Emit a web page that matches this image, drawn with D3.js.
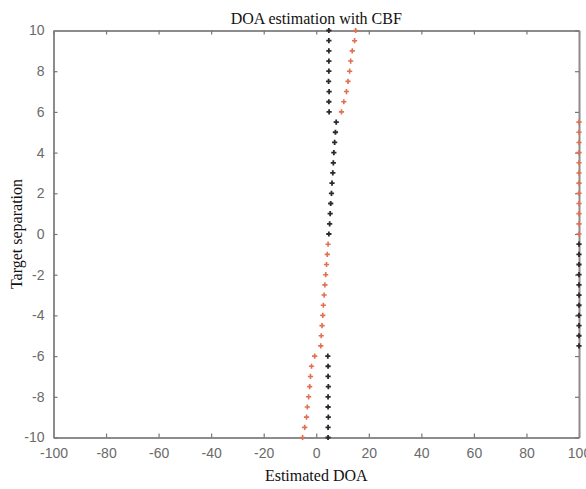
<!DOCTYPE html>
<html>
<head>
<meta charset="utf-8">
<script src="https://cdn.jsdelivr.net/npm/d3@7"></script>
<style>
  html, body { margin: 0; padding: 0; background: #fff; }
  svg { display: block; }
</style>
</head>
<body>
<svg id="chart" width="586" height="489"></svg>
<script>
// Target separation (y axis), -10 to 10 in steps of 0.5
const separation = [
  -10, -9.5, -9, -8.5, -8, -7.5, -7, -6.5, -6, -5.5,
  -5, -4.5, -4, -3.5, -3, -2.5, -2, -1.5, -1, -0.5,
  0, 0.5, 1, 1.5, 2, 2.5, 3, 3.5, 4, 4.5,
  5, 5.5, 6, 6.5, 7, 7.5, 8, 8.5, 9, 9.5, 10
];

// Estimated DOA of the first source (black markers)
const estimate1 = [
  4.5, 4.5, 4.6, 4.5, 4.5, 4.6, 4.5, 4.5, 4.4, 100,
  100, 100, 100, 100, 100, 100, 100, 100, 100, 100,
  4.8, 5.1, 5.3, 5.5, 5.8, 6.0, 6.3, 6.5, 6.7, 7.0,
  7.3, 7.6, 4.9, 4.8, 4.9, 4.7, 4.8, 4.8, 4.8, 4.8, 4.8
];

// Estimated DOA of the second source (red markers)
const estimate2 = [
  -5.2, -4.4, -3.7, -3.4, -2.9, -2.5, -2.2, -1.8, -0.6, 1.7,
  1.9, 2.2, 2.5, 2.7, 3.0, 3.3, 3.6, 3.9, 4.2, 4.5,
  100, 100, 100, 100, 100, 100, 100, 100, 100, 100,
  100, 100, 9.6, 10.5, 11.5, 12.1, 12.7, 13.1, 13.7, 14.6, 15.0
];

const xTicks = [-100, -80, -60, -40, -20, 0, 20, 40, 60, 80, 100];
const yTicks = [-10, -8, -6, -4, -2, 0, 2, 4, 6, 8, 10];

const titleText = "DOA estimation with CBF";
const xLabelText = "Estimated DOA";
const yLabelText = "Target separation";

const svg = d3.select("#chart");
const margin = { left: 53.5, right: 7, top: 30.5, bottom: 51.5 };
const W = 586, H = 489;
const x0 = margin.left, x1 = W - margin.right;
const y0 = margin.top, y1 = H - margin.bottom;

const x = d3.scaleLinear().domain([-100, 100]).range([x0, x1]);
const y = d3.scaleLinear().domain([-10, 10]).range([y1, y0]);

const axisColor = "#8c8c8c";
const labelColor = "#6a6a6a";
const tickLen = 4;
// plain hyphen-minus for negative tick labels
const fmt = d => String(d);

// Axis box: bottom, left, top, right, all with inward ticks
const axisBottomG = svg.append("g").attr("transform", `translate(0,${y1})`)
  .call(d3.axisBottom(x).tickValues(xTicks).tickSizeInner(-tickLen).tickSizeOuter(0).tickPadding(10).tickFormat(fmt));
const axisLeftG = svg.append("g").attr("transform", `translate(${x0},0)`)
  .call(d3.axisLeft(y).tickValues(yTicks).tickSizeInner(-tickLen).tickSizeOuter(0).tickPadding(9).tickFormat(fmt));
const axisTopG = svg.append("g").attr("transform", `translate(0,${y0})`)
  .call(d3.axisTop(x).tickValues(xTicks).tickSizeInner(-tickLen).tickSizeOuter(0).tickFormat(""));
const axisRightG = svg.append("g").attr("transform", `translate(${x1},0)`)
  .call(d3.axisRight(y).tickValues(yTicks).tickSizeInner(-tickLen).tickSizeOuter(0).tickFormat(""));

[axisBottomG, axisLeftG, axisTopG, axisRightG].forEach(g => {
  g.select(".domain").attr("stroke", axisColor).attr("stroke-width", 2);
  g.selectAll(".tick line").attr("stroke", "#777").attr("stroke-width", 1.2);
  g.selectAll(".tick text")
    .attr("fill", labelColor)
    .attr("font-family", "'Liberation Sans', Arial, sans-serif")
    .attr("font-size", 14);
});
axisBottomG.selectAll(".tick text").attr("dy", "0.72em");

// Markers: "+" for each estimate
const plus = "M-2.6,0H2.6M0,-2.6V2.6";
function drawSeries(values, color, width) {
  svg.append("g").selectAll("path")
    .data(separation.map((s, i) => [values[i], s]))
    .join("path")
    .attr("d", plus)
    .attr("transform", d => `translate(${x(d[0])},${y(d[1])})`)
    .attr("stroke", color)
    .attr("stroke-width", width)
    .attr("fill", "none");
}
drawSeries(estimate2, "#e0704f", 1.6);
drawSeries(estimate1, "#2a2a2a", 1.8);

// Title and axis labels
const serif = "'Liberation Serif', 'Times New Roman', serif";
svg.append("text")
  .attr("x", (x0 + x1) / 2).attr("y", 24)
  .attr("text-anchor", "middle")
  .attr("font-family", serif).attr("font-size", 16).attr("fill", "#111")
  .text(titleText);
svg.append("text")
  .attr("x", (x0 + x1) / 2).attr("y", 481)
  .attr("text-anchor", "middle")
  .attr("font-family", serif).attr("font-size", 16).attr("fill", "#111")
  .text(xLabelText);
svg.append("text")
  .attr("transform", `translate(22,${(y0 + y1) / 2}) rotate(-90)`)
  .attr("text-anchor", "middle")
  .attr("font-family", serif).attr("font-size", 16).attr("fill", "#111")
  .text(yLabelText);
</script>
</body>
</html>
